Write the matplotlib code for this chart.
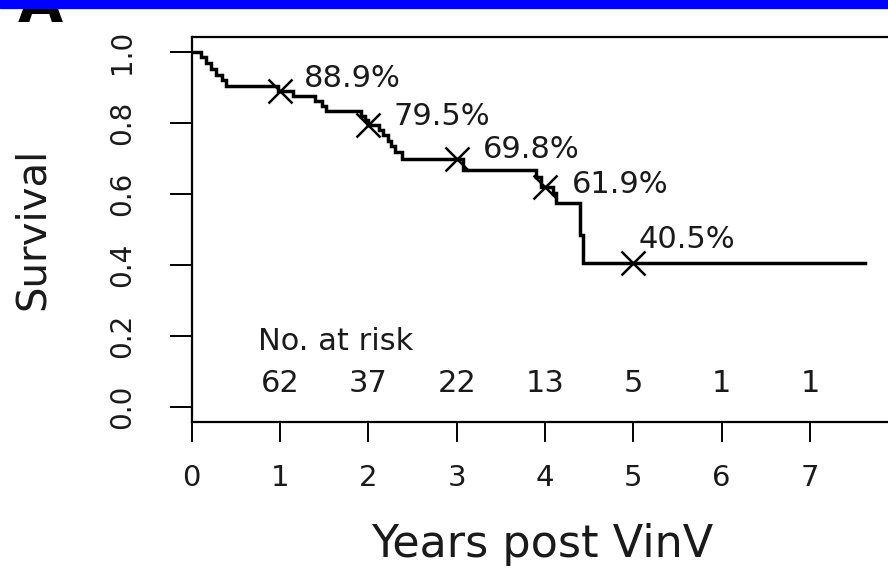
import matplotlib
matplotlib.use("Agg")
import matplotlib.pyplot as plt
from matplotlib.patches import Rectangle

# Kaplan-Meier curve: survival from each time on (years)
km_times = [0.0, 0.10, 0.16, 0.22, 0.28, 0.34, 0.39, 0.98, 1.15, 1.40, 1.47, 1.52,
            1.92, 1.96, 2.00, 2.12, 2.17, 2.22, 2.26, 2.30, 2.38, 3.07, 3.90, 3.96,
            4.09, 4.13, 4.40, 4.43, 7.62]
km_surv = [1.000, 0.984, 0.968, 0.952, 0.935, 0.919, 0.903, 0.889, 0.874, 0.860, 0.846, 0.832,
           0.818, 0.807, 0.795, 0.780, 0.765, 0.750, 0.735, 0.718, 0.698, 0.667, 0.648, 0.619,
           0.602, 0.574, 0.485, 0.405, 0.405]
mark_years = [1, 2, 3, 4, 5]
mark_surv = [0.889, 0.795, 0.698, 0.619, 0.405]
mark_labels = ["88.9%", "79.5%", "69.8%", "61.9%", "40.5%"]
risk_years = [1, 2, 3, 4, 5, 6, 7]
risk_counts = [62, 37, 22, 13, 5, 1, 1]
xticks = [0, 1, 2, 3, 4, 5, 6, 7]
yticks = [0.0, 0.2, 0.4, 0.6, 0.8, 1.0]

INK = "#1a1a1a"
W, H = 888, 569

fig = plt.figure(figsize=(W / 100, H / 100), dpi=100)
ax = fig.add_axes([191.7 / W, (H - 421.7) / H, (893 - 191.7) / W, (421.7 - 36.7) / H])

ax.step(km_times, km_surv, where="post", color="black", lw=2.5, solid_joinstyle="miter")
ax.plot(mark_years, mark_surv, ls="none", marker="x", ms=17, mew=1.8, color="black")

# label offsets in points (right of marker, last one above)
offsets = [(17, 3), (18, 0), (19, 1), (19, -4), (4, 11)]
for x, y, lab, off in zip(mark_years, mark_surv, mark_labels, offsets):
    ax.annotate(lab, (x, y), xytext=off, textcoords="offset points",
                ha="left", va="baseline", fontsize=22, color=INK)

ax.text(0.75, 0.161, "No. at risk", ha="left", va="baseline", fontsize=22, color=INK)
for x, n in zip(risk_years, risk_counts):
    ax.text(x, 0.044, str(n), ha="center", va="baseline", fontsize=22, color=INK)

ax.set_xlim(0, 7.94)
ax.set_ylim(-0.0405, 1.042)
ax.set_xticks(xticks)
ax.set_xticklabels([str(v) for v in xticks])
ax.set_yticks(yticks)
ax.set_yticklabels([f"{v:.1f}" for v in yticks], rotation=90, va="center")
ax.tick_params(axis="x", direction="out", length=14.4, width=1.4, pad=16,
               labelsize=21, colors="black", labelcolor=INK)
ax.tick_params(axis="y", direction="out", length=15.8, width=1.4, pad=24,
               labelsize=20, colors="black", labelcolor=INK)
for sp in ax.spines.values():
    sp.set_linewidth(1.6)

ax.set_xlabel("Years post VinV", fontsize=32, color=INK)
ax.xaxis.label.set_va("baseline")
ax.xaxis.set_label_coords(0.5, (421.7 - 557) / 385)
ax.set_ylabel("Survival", fontsize=29, color=INK)
ax.yaxis.label.set_va("center")
ax.yaxis.set_label_coords((33 - 191.7) / 701.3, 0.5)

# panel letter, mostly hidden under the blue bar along the top
fig.text(18 / W, 1 - 22 / H, "A", fontsize=42, fontweight="bold", ha="left",
         va="baseline", color="black", zorder=5)
fig.add_artist(Rectangle((0, 1 - 8 / H), 1, 8 / H, transform=fig.transFigure,
                         color="#0000ff", zorder=10))

fig.savefig("out.png", dpi=100)
